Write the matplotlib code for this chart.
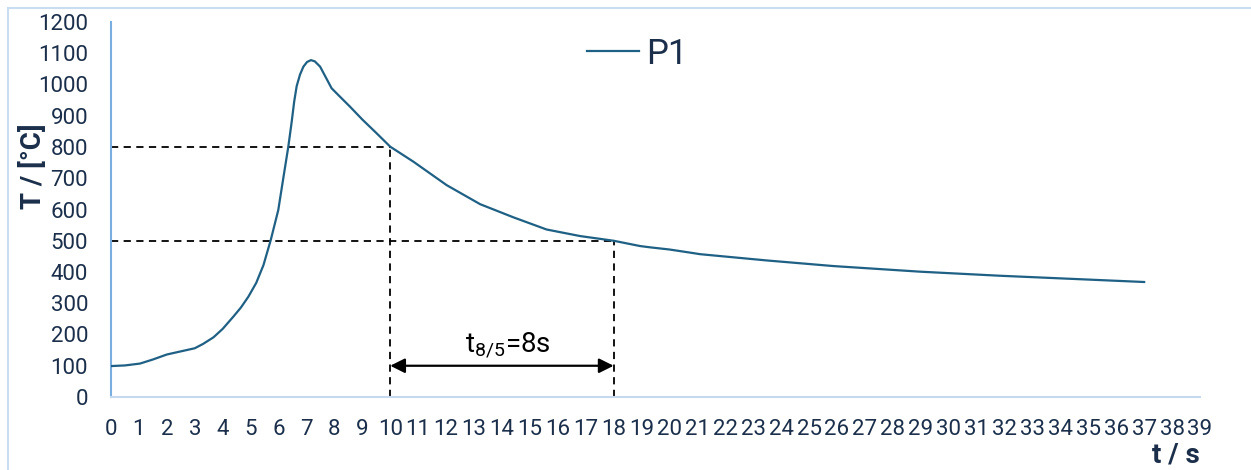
import matplotlib
matplotlib.use("Agg")
import matplotlib.pyplot as plt
from matplotlib.patches import Rectangle

plt.rcParams["font.family"] = ["Roboto", "DejaVu Sans"]
plt.rcParams["mathtext.fontset"] = "custom"
plt.rcParams["mathtext.rm"] = "Roboto"

# measured temperature cycle P1
time_s = [0, 0.5, 1.04, 1.5, 2.0, 2.5, 3.0, 3.3, 3.67, 4.0, 4.38, 4.65, 4.92, 5.2,
          5.46, 5.72, 5.99, 6.17, 6.35, 6.47, 6.56, 6.65, 6.77, 6.89, 7.02, 7.16,
          7.3, 7.49, 7.65, 7.9, 8.2, 8.56, 9.0, 9.5, 10, 10.83, 12.02, 13.22,
          14.41, 15.6, 16.8, 18, 18.95, 19.3, 20.0, 20.74, 21.1, 23.48, 25.87,
          28.98, 31.84, 37]
temp_c = [99, 101, 107, 120, 136, 146, 156, 170, 191, 218, 257, 286, 321, 365,
          422, 502, 598, 700, 801, 880, 945, 995, 1032, 1057, 1072, 1078,
          1074, 1057, 1030, 988, 961, 929, 888, 845, 801, 753, 678, 617,
          575, 536, 515, 500, 483, 479, 472, 462, 457, 437, 419,
          401, 388, 368]

t8, t5 = 10, 18
T8, T5 = 800, 500
x_ticks = list(range(0, 40))
y_ticks = list(range(0, 1300, 100))

line_color = "#1f6085"
text_color = "#1b2f4b"

fig = plt.figure(figsize=(12.51, 4.70), dpi=100)
ax = fig.add_axes([111 / 1251, 1 - 397 / 470, (1200 - 111) / 1251, (397 - 22) / 470])

ax.plot(time_s, temp_c, color=line_color, lw=1.6, label="P1", zorder=3)

dash = (0, (4, 3))
ax.plot([0, t8], [T8, T8], color="black", lw=1.3, ls=dash)
ax.plot([t8, t8], [0, T8], color="black", lw=1.3, ls=dash)
ax.plot([0, t5], [T5, T5], color="black", lw=1.3, ls=dash)
ax.plot([t5, t5], [0, T5], color="black", lw=1.3, ls=dash)

ax.annotate("", xy=(t5, 100), xytext=(t8, 100),
            arrowprops=dict(arrowstyle="<|-|>", color="black", lw=1.6,
                            mutation_scale=22, shrinkA=0, shrinkB=0))
ax.text((t8 + t5) / 2 + 0.2, 141, r"t$_{\mathregular{8/5}}$=8s", fontsize=20,
        ha="center", va="baseline", color="black")

ax.set_xlim(0, 39)
ax.set_ylim(0, 1200)
ax.set_xticks(x_ticks)
ax.set_yticks(y_ticks)
ax.tick_params(axis="both", length=0, labelsize=16, labelcolor=text_color)
ax.tick_params(axis="x", pad=16)
ax.tick_params(axis="y", pad=16.5)

for side in ["top", "right"]:
    ax.spines[side].set_visible(False)
ax.spines["left"].set_color("#7aaee0")
ax.spines["left"].set_linewidth(1.5)
ax.spines["bottom"].set_color("#c5d9ef")
ax.spines["bottom"].set_linewidth(1.5)

fig.text(33 / 1251, 1 - 166 / 470, "T / [°C]", rotation=90, ha="center", va="center",
         fontsize=20, fontweight="bold", color=text_color)
fig.text(1200 / 1251, 1 - 463 / 470, "t / s", ha="right", va="baseline",
         fontsize=20, fontweight="bold", color=text_color)

ax.legend(loc="center left", bbox_to_anchor=(587 / 1251, 1 - 54 / 470),
          bbox_transform=fig.transFigure, frameon=False, fontsize=25,
          handlelength=1.5, handletextpad=0.2, borderpad=0, borderaxespad=0,
          labelcolor=text_color)

fig.patches.append(Rectangle((8 / 1251, -0.1), 1.2, 1.1 - 8 / 470, transform=fig.transFigure,
                             fill=False, edgecolor="#c9dcf0", lw=1.5))

fig.savefig("out.png", dpi=100)
